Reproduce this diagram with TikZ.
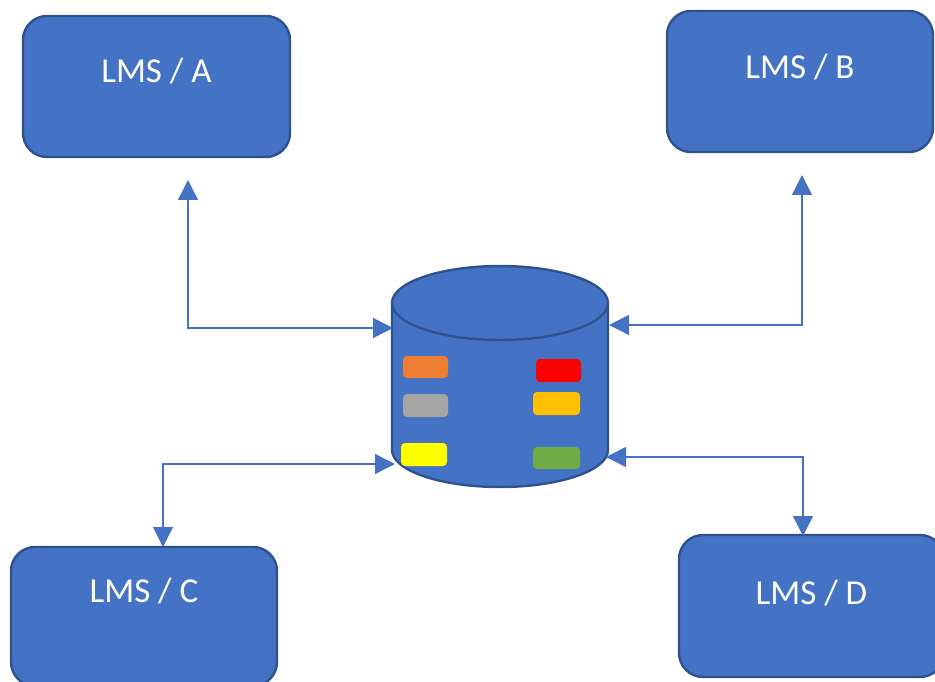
\documentclass[tikz,border=0pt]{standalone}
\usepackage{fontspec}
\setmainfont{Carlito}
\usetikzlibrary{arrows.meta}
\definecolor{boxfill}{HTML}{4472C4}
\definecolor{boxline}{HTML}{2F528F}
\definecolor{linkcol}{HTML}{4472C4}
\definecolor{tOrange}{HTML}{ED7D31}
\definecolor{tGray}{HTML}{A5A5A5}
\definecolor{tYellow}{HTML}{FFFF00}
\definecolor{tRed}{HTML}{FF0000}
\definecolor{tAmber}{HTML}{FFC000}
\definecolor{tGreen}{HTML}{70AD47}
\tikzset{
  lmsbox/.style={draw=boxline, fill=boxfill, line width=2.4pt, rounded corners=24pt, inner sep=0pt},
  lmstext/.style={text=white, font=\fontsize{35}{42}\selectfont, anchor=base, inner sep=0pt},
  link/.style={draw=linkcol, line width=1.4pt, {Triangle[width=20pt,length=20pt]}-{Triangle[width=20pt,length=20pt]}},
  tag/.style={rounded corners=4pt, inner sep=0pt, draw=none},
}
\begin{document}
\begin{tikzpicture}[x=1pt,y=-1pt]
\useasboundingbox (0,0) rectangle (935,682);
% boxes
\node[lmsbox, minimum width=267pt, minimum height=141pt] (A) at (156.5,86.5) {};
\node[lmstext] (Atxt) at (156.5,83) {LMS / A};
\node[lmsbox, minimum width=266pt, minimum height=141pt] (B) at (800,81.5) {};
\node[lmstext] (Btxt) at (800,79) {LMS / B};
\node[lmsbox, minimum width=266pt, minimum height=139pt] (C) at (144,616.5) {};
\node[lmstext] (Ctxt) at (144,602) {LMS / C};
\node[lmsbox, minimum width=265pt, minimum height=142pt] (D) at (811.5,606) {};
\node[lmstext] (Dtxt) at (811.5,604) {LMS / D};
% cylinder
\node[minimum width=216pt, minimum height=221pt, inner sep=0pt] (cyl) at (500,376.5) {};
\fill[boxfill] (392,303) -- (392,450) arc[start angle=180, end angle=0, x radius=108, y radius=37] -- (608,303) -- cycle;
\fill[boxfill] (500,303) ellipse[x radius=108, y radius=37];
\draw[boxline, line width=2.4pt] (392,303) -- (392,450) arc[start angle=180, end angle=0, x radius=108, y radius=37] -- (608,303);
\draw[boxline, line width=2.4pt] (500,303) ellipse[x radius=108, y radius=37];
% tags
\fill[tOrange, tag] (403,356) rectangle (448,378);
\fill[tGray, tag] (403,394) rectangle (448,417);
\fill[tYellow, tag] (401,443) rectangle (447,466);
\fill[tRed, tag] (536,359) rectangle (581,382);
\fill[tAmber, tag] (533,392) rectangle (580,415);
\fill[tGreen, tag] (533,447) rectangle (580,469);
% connector end points
\coordinate (a1) at (188,180);
\coordinate (a2) at (393,328);
\coordinate (b1) at (802,175);
\coordinate (b2) at (609,325);
\coordinate (c1) at (395,464);
\coordinate (c2) at (163,547);
\coordinate (d1) at (606,457);
\coordinate (d2) at (803,536);
% connectors
\draw[link] (a1) |- (a2);
\draw[link] (b1) |- (b2);
\draw[link] (c1) -| (c2);
\draw[link] (d1) -| (d2);
\end{tikzpicture}
\end{document}
